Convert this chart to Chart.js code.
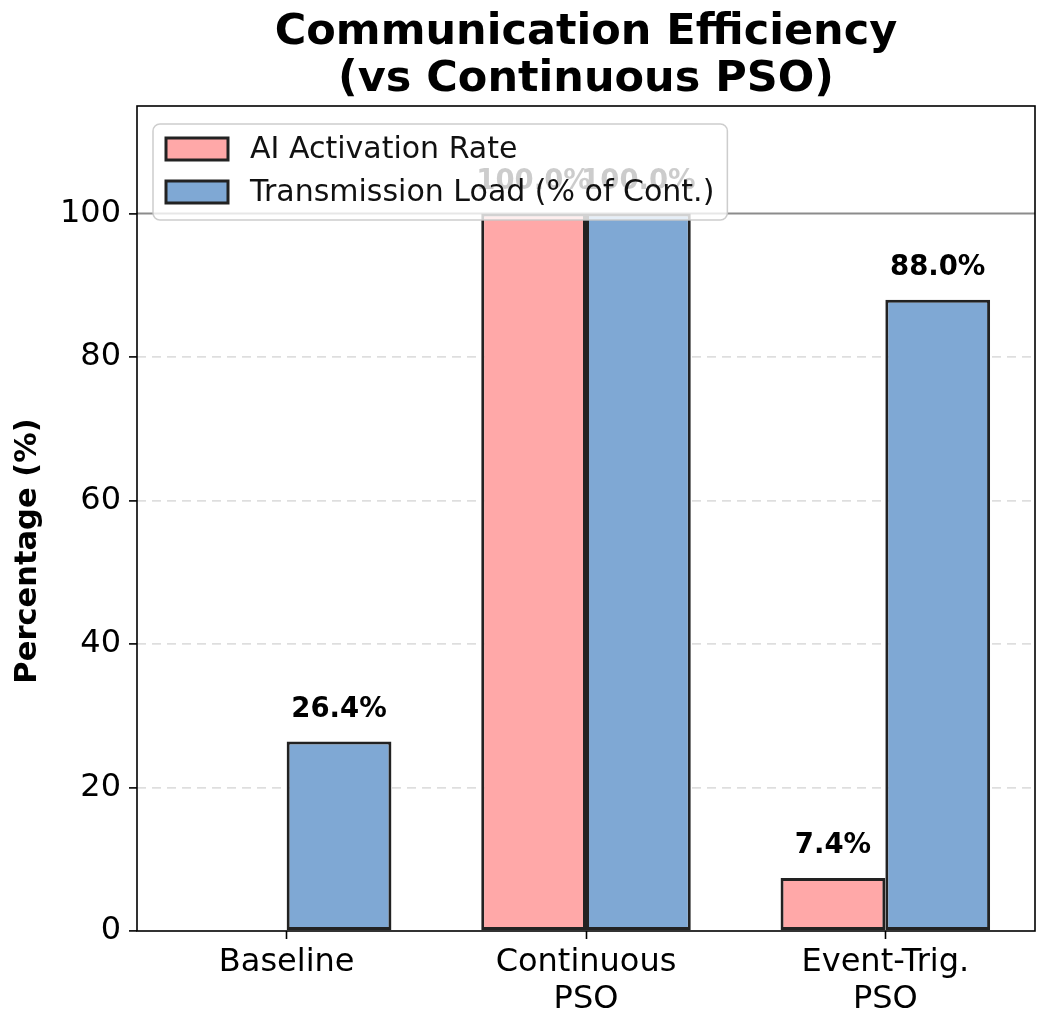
<!DOCTYPE html>
<html>
<head>
<meta charset="utf-8">
<script src="https://cdn.jsdelivr.net/npm/chart.js@4.4.0/dist/chart.umd.min.js"></script>
<style>
  body{margin:0;background:#fff;}
  canvas{display:block;}
</style>
</head>
<body>
<canvas id="chart" width="1050" height="1022"></canvas>
<script>
// data
const categories = [["Baseline"], ["Continuous", "PSO"], ["Event-Trig.", "PSO"]];
const seriesNames = ["AI Activation Rate", "Transmission Load (% of Cont.)"];
const aiActivation = [0, 100, 7.4];
const transmissionLoad = [26.4, 100, 88.0];
const yTicks = [0, 20, 40, 60, 80, 100];
const refLine = 100;
const yLabel = "Percentage (%)";

const FONT = "'DejaVu Sans', sans-serif";

/* reference line at 100 (under the bars) */
const refLinePlugin = {
  id: "refLine",
  beforeDatasetsDraw(chart){
    const {ctx, chartArea, scales:{y}} = chart;
    const py = y.getPixelForValue(refLine);
    ctx.save();
    ctx.strokeStyle = "rgba(120,120,120,0.85)";
    ctx.lineWidth = 2;
    ctx.beginPath();
    ctx.moveTo(chartArea.left, py);
    ctx.lineTo(chartArea.right, py);
    ctx.stroke();
    ctx.restore();
  }
};

/* value labels, frame, y label, legend */
const overlayPlugin = {
  id: "overlay",
  afterDatasetsDraw(chart){
    const {ctx, chartArea, scales:{y}} = chart;
    ctx.save();

    // value labels
    ctx.font = "bold 27.5px " + FONT;
    ctx.fillStyle = "#000";
    ctx.textAlign = "center";
    ctx.textBaseline = "alphabetic";
    chart.data.datasets.forEach((ds, i) => {
      const meta = chart.getDatasetMeta(i);
      ds.data.forEach((v, j) => {
        if(v <= 0) return;
        const bar = meta.data[j];
        ctx.fillText(v.toFixed(1) + "%", bar.x, y.getPixelForValue(v + 3) - 3);
      });
    });

    // frame
    ctx.strokeStyle = "#000";
    ctx.lineWidth = 1.6;
    ctx.strokeRect(chartArea.left, chartArea.top,
      chartArea.right - chartArea.left, chartArea.bottom - chartArea.top);

    // y axis label
    ctx.save();
    ctx.translate(28, 551);
    ctx.rotate(-Math.PI / 2);
    ctx.font = "bold 30.5px " + FONT;
    ctx.textAlign = "center";
    ctx.textBaseline = "middle";
    ctx.fillStyle = "#000";
    ctx.fillText(yLabel, 0, 0);
    ctx.restore();

    // legend
    ctx.font = "30px " + FONT;
    const textW = Math.max(...seriesNames.map(s => ctx.measureText(s).width));
    const lx = chartArea.left + 16, ly = chartArea.top + 18;
    const lw = 13 + 62 + 22 + textW + 13, lh = 96;
    ctx.beginPath();
    ctx.roundRect(lx, ly, lw, lh, 7);
    ctx.fillStyle = "rgba(255,255,255,0.8)";
    ctx.fill();
    ctx.strokeStyle = "rgba(200,200,200,0.9)";
    ctx.lineWidth = 1.5;
    ctx.stroke();

    chart.data.datasets.forEach((ds, i) => {
      const cy = ly + 25 + i * 43;
      ctx.fillStyle = ds.backgroundColor;
      ctx.fillRect(lx + 13, cy - 11, 62, 22);
      ctx.strokeStyle = ds.borderColor;
      ctx.lineWidth = 3;
      ctx.strokeRect(lx + 13, cy - 11, 62, 22);
      ctx.fillStyle = "#111";
      ctx.textAlign = "left";
      ctx.textBaseline = "middle";
      ctx.fillText(ds.label, lx + 13 + 62 + 22, cy + 1);
    });

    ctx.restore();
  }
};

new Chart(document.getElementById("chart"), {
  type: "bar",
  data: {
    labels: categories,
    datasets: [
      {
        label: seriesNames[0],
        data: aiActivation,
        backgroundColor: "#FFA8A8",
        borderColor: "#222222",
        borderWidth: 3,
        borderSkipped: false
      },
      {
        label: seriesNames[1],
        data: transmissionLoad,
        backgroundColor: "#7FA8D4",
        borderColor: "#222222",
        borderWidth: 3,
        borderSkipped: false
      }
    ]
  },
  options: {
    responsive: false,
    animation: false,
    events: [],
    datasets: {
      bar: { categoryPercentage: 0.7, barPercentage: 1.0 }
    },
    layout: { padding: { left: 0, right: 15, top: 0, bottom: 0 } },
    plugins: {
      legend: { display: false },
      tooltip: { enabled: false },
      title: {
        display: true,
        fullSize: false,
        text: ["Communication Efficiency", "(vs Continuous PSO)"],
        color: "#000",
        font: { family: FONT, size: 43, weight: "bold", lineHeight: 1.1 },
        padding: { top: 9, bottom: 2.4 }
      }
    },
    scales: {
      x: {
        afterFit(scale){ scale.height = 91; },
        grid: {
          offset: false,
          drawOnChartArea: false,
          tickColor: "#000",
          tickLength: 8,
          tickWidth: 1.6
        },
        border: { display: false },
        ticks: {
          color: "#000",
          padding: 5,
          maxRotation: 0,
          font: { family: FONT, size: 32, lineHeight: 1.17 }
        }
      },
      y: {
        min: 0,
        max: 115,
        afterFit(scale){ scale.width = 137; },
        afterBuildTicks(scale){ scale.ticks = yTicks.map(v => ({value: v})); },
        grid: {
          color: ctx => (ctx.tick && (ctx.tick.value === 0 || ctx.tick.value === 100)) ? "rgba(0,0,0,0)" : "rgba(0,0,0,0.13)",
          lineWidth: 1.8,
          tickColor: "#000",
          tickLength: 8,
          tickWidth: 1.6
        },
        border: { display: false, dash: [9, 6] },
        ticks: {
          color: "#000",
          padding: 8,
          font: { family: FONT, size: 32 }
        }
      }
    }
  },
  plugins: [refLinePlugin, overlayPlugin]
});
</script>
</body>
</html>
